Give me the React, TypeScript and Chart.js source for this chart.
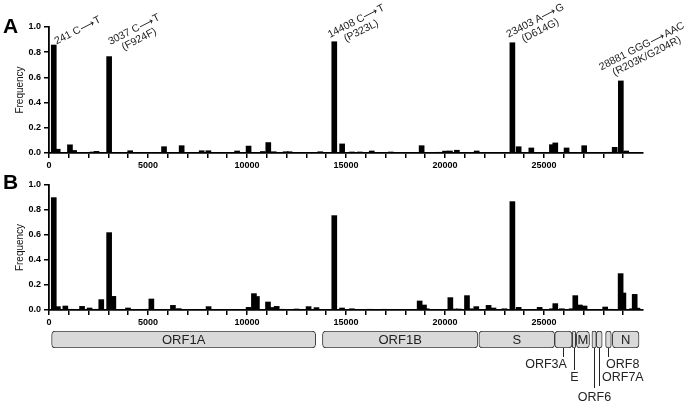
import React, { useEffect, useRef } from 'react';
import { Chart, registerables } from 'chart.js';

Chart.register(...registerables);

const FONT = "'Liberation Sans', Arial, Helvetica, sans-serif";

// ---------- Panel A (positions in nt, frequency) ----------
const positionsA = [241, 440, 1059, 1270, 2200, 2400, 3037, 4100, 5810, 6700, 7710, 8050, 9500, 10080, 10800, 11075, 11350, 11950, 12150, 13700, 14408, 14805, 15300, 15700, 16300, 17260, 18820, 19700, 20000, 20250, 20600, 21600, 23403, 23720, 24360, 25400, 25570, 26140, 27030, 28330, 28570, 28881, 29150];
const freqA = [0.857, 0.03, 0.065, 0.02, 0.008, 0.013, 0.765, 0.018, 0.05, 0.058, 0.018, 0.018, 0.016, 0.055, 0.012, 0.083, 0.01, 0.01, 0.01, 0.01, 0.883, 0.072, 0.008, 0.008, 0.016, 0.008, 0.058, 0.005, 0.015, 0.016, 0.022, 0.016, 0.875, 0.05, 0.04, 0.066, 0.08, 0.04, 0.058, 0.005, 0.045, 0.572, 0.016];

// ---------- Panel B ----------
const positionsB = [241, 450, 825, 1100, 1670, 2050, 2400, 2640, 3037, 3250, 3990, 5000, 5170, 6260, 6550, 8060, 10080, 10350, 10500, 11060, 11250, 11500, 11800, 12500, 13110, 13510, 14408, 14800, 15300, 16200, 16900, 18720, 18940, 19080, 20270, 20500, 20700, 21110, 21300, 21580, 22200, 22450, 23000, 23403, 23720, 24780, 25400, 25570, 25900, 26400, 26580, 26810, 27050, 28090, 28330, 28870, 29010, 29450, 29580, 29720];
const freqB = [0.899, 0.027, 0.032, 0.005, 0.029, 0.016, 0.005, 0.083, 0.619, 0.109, 0.016, 0.005, 0.088, 0.037, 0.011, 0.027, 0.021, 0.131, 0.108, 0.064, 0.02, 0.029, 0.005, 0.008, 0.027, 0.019, 0.755, 0.016, 0.01, 0.005, 0.005, 0.072, 0.04, 0.01, 0.099, 0.008, 0.008, 0.115, 0.01, 0.027, 0.037, 0.016, 0.01, 0.867, 0.021, 0.021, 0.01, 0.051, 0.01, 0.01, 0.115, 0.04, 0.032, 0.024, 0.005, 0.291, 0.136, 0.01, 0.125, 0.015];

// ---------- Axes ----------
const xMax = 30000;
const xTicks = [0, 1000, 2000, 3000, 4000, 5000, 6000, 7000, 8000, 9000, 10000, 11000, 12000, 13000, 14000, 15000, 16000, 17000, 18000, 19000, 20000, 21000, 22000, 23000, 24000, 25000, 26000, 27000, 28000, 29000];
const xTickLabels = ['0', '5000', '10000', '15000', '20000', '25000'];
const yTicks = [0, 0.2, 0.4, 0.6, 0.8, 1.0];
const yTickLabels = ['0.0', '0.2', '0.4', '0.6', '0.8', '1.0'];

// ---------- Annotations (panel A) ----------
const annotPositions = [241, 3037, 14408, 23403, 28881];
const annotLines = [
  ['241 C⟶T'],
  ['3037 C⟶T', '(F924F)'],
  ['14408 C⟶T', '(P323L)'],
  ['23403 A⟶G', '(D614G)'],
  ['28881 GGG⟶AAC', '(R203K/G204R)'],
];
const annotOffsets = [[24, -14.5], [25, -27], [22, -20.5], [23, -22], [21, -34.5]];

// ---------- Genome ----------
const geneNames = ['ORF1A', 'ORF1B', 'S', 'ORF3A', 'E', 'M', 'ORF6', 'ORF7A', 'ORF8', 'N'];
const geneStarts = [130, 13810, 21710, 25540, 26430, 26630, 27420, 27640, 28110, 28450];
const geneEnds = [13470, 21660, 25540, 26420, 26600, 27300, 27640, 27940, 28400, 29800];
const insideLabels = ['ORF1A', 'ORF1B', 'S', 'M', 'N'];
// leader-line callouts: name, line end (canvas y), text dx from line, text y, align
const callouts: [string, number, number, number, CanvasTextAlign][] = [
  ['ORF3A', 37, -17.5, 44.5, 'center'],
  ['E', 50, 0, 57.5, 'center'],
  ['ORF6', 68, 0, 77.5, 'center'],
  ['ORF7A', 66, 2.5, 57.5, 'left'],
  ['ORF8', 37, -2.5, 44.5, 'left'],
];

function panelPlugin(letter: string, letterY: number, withAnnotations: boolean) {
  return {
    id: 'panel' + letter,
    afterDraw(chart: any) {
      const ctx: CanvasRenderingContext2D = chart.ctx;
      ctx.save();
      ctx.fillStyle = '#000';
      ctx.font = `bold 21px ${FONT}`;
      ctx.textAlign = 'left';
      ctx.textBaseline = 'alphabetic';
      ctx.fillText(letter, 3, letterY);
      if (withAnnotations) {
        const xs = chart.scales.x;
        const ys = chart.scales.y;
        ctx.font = `10.5px ${FONT}`;
        ctx.fillStyle = '#1a1a1a';
        ctx.textAlign = 'center';
        ctx.textBaseline = 'middle';
        annotPositions.forEach((pos, i) => {
          const idx = positionsA.indexOf(pos);
          const val = freqA[idx];
          const px = xs.getPixelForValue(pos);
          const py = ys.getPixelForValue(val);
          ctx.save();
          ctx.translate(px + annotOffsets[i][0], py + annotOffsets[i][1]);
          ctx.rotate((-27 * Math.PI) / 180);
          annotLines[i].forEach((ln, k) => ctx.fillText(ln, 0, k * 11));
          ctx.restore();
        });
      }
      ctx.restore();
    },
  };
}

function freqConfig(positions: number[], freq: number[], letter: string, top: number, xh: number, letterY: number, annot: boolean): any {
  return {
    type: 'bar',
    data: {
      datasets: [
        {
          data: positions.map((p, i) => ({ x: p, y: freq[i] })),
          backgroundColor: '#000',
          borderWidth: 0,
          barThickness: 5,
        },
      ],
    },
    options: {
      animation: false,
      responsive: false,
      maintainAspectRatio: false,
      layout: { padding: { left: 0, right: 42, top, bottom: 0 } },
      plugins: { legend: { display: false }, tooltip: { enabled: false } },
      scales: {
        x: {
          type: 'linear',
          min: 0,
          max: xMax,
          offset: false,
          afterBuildTicks: (s: any) => {
            s.ticks = xTicks.map((v) => ({ value: v }));
          },
          ticks: {
            autoSkip: false,
            maxRotation: 0,
            padding: 2,
            color: '#000',
            font: { family: FONT, size: 9, weight: 'bold' },
            callback: (v: any) => {
              const s = String(v);
              return xTickLabels.includes(s) ? s : '';
            },
          },
          grid: { drawOnChartArea: false, offset: false, tickLength: 5, color: '#000', lineWidth: 1.5 },
          border: { display: true, color: '#000', width: 1.8 },
          afterFit: (s: any) => {
            s.height = xh;
          },
        },
        y: {
          min: 0,
          max: 1,
          afterBuildTicks: (s: any) => {
            s.ticks = yTicks.map((v) => ({ value: v }));
          },
          ticks: {
            padding: 3,
            color: '#000',
            font: { family: FONT, size: 9, weight: 'bold' },
            callback: (v: any) => {
              const i = yTicks.findIndex((t) => Math.abs(t - Number(v)) < 1e-6);
              return i >= 0 ? yTickLabels[i] : '';
            },
          },
          grid: { drawOnChartArea: false, tickLength: 5, color: '#000', lineWidth: 1.5 },
          border: { display: true, color: '#000', width: 1.8 },
          title: {
            display: true,
            text: 'Frequency',
            color: '#111',
            font: { family: FONT, size: 10 },
            padding: { top: 14, bottom: 0 },
          },
          afterFit: (s: any) => {
            s.width = 49;
          },
        },
      },
    },
    plugins: [panelPlugin(letter, letterY, annot)],
  };
}

const genomePlugin = {
  id: 'genomeLabels',
  afterDatasetsDraw(chart: any) {
    const ctx: CanvasRenderingContext2D = chart.ctx;
    const meta = chart.getDatasetMeta(0);
    ctx.save();
    ctx.fillStyle = '#222';
    ctx.strokeStyle = '#222';
    ctx.lineWidth = 1;
    ctx.textBaseline = 'middle';
    geneNames.forEach((name, i) => {
      const el = meta.data[i];
      const cx = (el.x + el.base) / 2;
      const bottom = el.y + 8.5;
      if (insideLabels.includes(name)) {
        ctx.font = `13px ${FONT}`;
        ctx.textAlign = 'center';
        ctx.fillText(name, cx, el.y + 1);
      }
      const c = callouts.find((q) => q[0] === name);
      if (c) {
        const lx = Math.round(cx) + 0.5;
        ctx.beginPath();
        ctx.moveTo(lx, bottom);
        ctx.lineTo(lx, c[1]);
        ctx.stroke();
        ctx.font = `12.5px ${FONT}`;
        ctx.textAlign = c[4];
        ctx.fillText(name, lx + c[2], c[3]);
      }
    });
    ctx.restore();
  },
};

function genomeConfig(): any {
  return {
    type: 'bar',
    data: {
      labels: ['genome'],
      datasets: [
        {
          data: geneNames.map((_, i) => ({ x: [geneStarts[i], geneEnds[i]], y: 'genome' })),
          backgroundColor: '#d9d9d9',
          borderColor: '#3c3c3c',
          borderWidth: 1,
          borderSkipped: false,
          borderRadius: 4,
          barThickness: 17,
        },
      ],
    },
    options: {
      indexAxis: 'y',
      animation: false,
      responsive: false,
      maintainAspectRatio: false,
      layout: { padding: { left: 49, right: 42, top: 11, bottom: 57 } },
      plugins: { legend: { display: false }, tooltip: { enabled: false } },
      scales: {
        x: { type: 'linear', min: 0, max: xMax, display: false },
        y: { type: 'category', display: false },
      },
    },
    plugins: [genomePlugin],
  };
}

export default function App() {
  const aRef = useRef<HTMLCanvasElement>(null);
  const bRef = useRef<HTMLCanvasElement>(null);
  const gRef = useRef<HTMLCanvasElement>(null);

  useEffect(() => {
    const charts = [
      new Chart(aRef.current as HTMLCanvasElement, freqConfig(positionsA, freqA, 'A', 27, 17, 33, true)),
      new Chart(bRef.current as HTMLCanvasElement, freqConfig(positionsB, freqB, 'B', 15, 20, 19, false)),
      new Chart(gRef.current as HTMLCanvasElement, genomeConfig()),
    ];
    return () => charts.forEach((c) => c.destroy());
  }, []);

  return (
    <div style={{ position: 'absolute', left: 0, top: 0, width: 685, height: 405, background: '#fff', overflow: 'hidden' }}>
      <canvas ref={aRef} width={685} height={170} style={{ position: 'absolute', left: 0, top: 0 }} />
      <canvas ref={bRef} width={685} height={160} style={{ position: 'absolute', left: 0, top: 170 }} />
      <canvas ref={gRef} width={685} height={85} style={{ position: 'absolute', left: 0, top: 320 }} />
    </div>
  );
}
